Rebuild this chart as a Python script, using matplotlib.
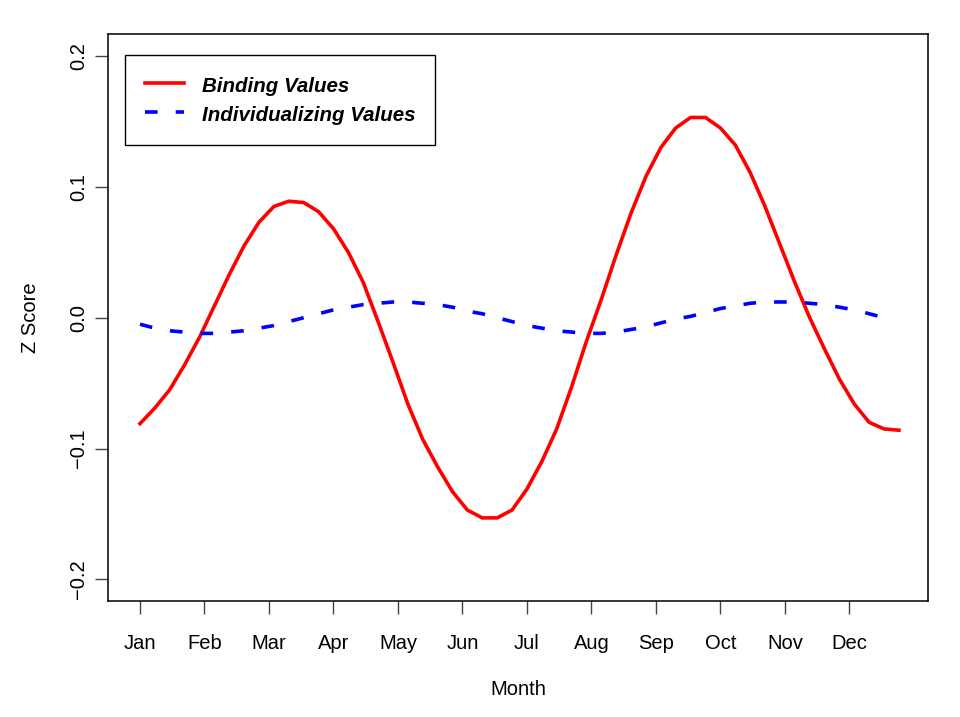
import numpy as np
import matplotlib.pyplot as plt

plt.rcParams['font.family'] = ['Liberation Sans', 'DejaVu Sans']

months = ['Jan', 'Feb', 'Mar', 'Apr', 'May', 'Jun',
          'Jul', 'Aug', 'Sep', 'Oct', 'Nov', 'Dec']

# weekly z scores
binding = [-0.081, -0.069, -0.055, -0.036, -0.015, 0.009, 0.033, 0.055,
           0.073, 0.085, 0.089, 0.088, 0.081, 0.068, 0.050, 0.027,
           -0.003, -0.034, -0.066, -0.093, -0.114, -0.133, -0.147, -0.153,
           -0.153, -0.147, -0.131, -0.110, -0.085, -0.053, -0.018, 0.014,
           0.048, 0.080, 0.108, 0.130, 0.145, 0.153, 0.153, 0.145,
           0.132, 0.111, 0.085, 0.056, 0.027, 0.000, -0.024, -0.047,
           -0.066, -0.080, -0.085, -0.086]

individualizing = [-0.005, -0.008, -0.010, -0.011, -0.012, -0.012, -0.011, -0.010,
                   -0.008, -0.006, -0.003, 0.000, 0.003, 0.006, 0.008, 0.010,
                   0.011, 0.012, 0.012, 0.011, 0.010, 0.008, 0.005, 0.003,
                   0.000, -0.003, -0.006, -0.008, -0.010, -0.011, -0.012, -0.012,
                   -0.011, -0.009, -0.007, -0.004, -0.001, 0.001, 0.004, 0.007,
                   0.009, 0.011, 0.012, 0.012, 0.012, 0.011, 0.010, 0.008,
                   0.006, 0.003, 0.000]

# week index -> month position (Jan = 1)
xb = 1 + np.arange(len(binding)) * 12 / 52
xi = 1 + np.arange(len(individualizing)) * 12 / 52

fig = plt.figure(figsize=(9.6, 7.17), dpi=100)
ax = fig.add_axes([0.1125, 0.1618, 0.8542, 0.7908])

ax.plot(xb, binding, color='red', lw=2.6, label='Binding Values')
ax.plot(xi, individualizing, color='blue', lw=2.6,
        linestyle=(0, (3.5, 5)), label='Individualizing Values')

ax.set_xlim(0.504, 13.22)
ax.set_ylim(-0.2165, 0.2168)

ax.set_xticks(range(1, 13))
ax.set_xticklabels(months, fontsize=14.5)
ax.set_yticks([-0.2, -0.1, 0.0, 0.1, 0.2])
ax.set_yticklabels(['\u22120.2', '\u22120.1', '0.0', '0.1', '0.2'],
                   fontsize=14.5, rotation=90, va='center')
ax.tick_params(direction='out', length=9.5, width=1, color='#444444')
ax.tick_params(axis='x', pad=14)
ax.tick_params(axis='y', pad=5)

for s in ax.spines.values():
    s.set_linewidth(1.1)
    s.set_color('black')

ax.set_xlabel('Month', fontsize=14.5, labelpad=20)
ax.set_ylabel('Z Score', fontsize=14.5, labelpad=21)

leg = ax.legend(loc='upper left', bbox_to_anchor=(0.0207, 0.963),
                borderaxespad=0, fancybox=False, framealpha=1,
                edgecolor='black', handlelength=1.9, handleheight=1.2,
                handletextpad=0.88, borderpad=0.96, labelspacing=0.35,
                prop={'size': 14.8, 'weight': 'bold', 'style': 'italic'})
leg.get_frame().set_linewidth(1.0)

fig.savefig('out.png', dpi=100)
